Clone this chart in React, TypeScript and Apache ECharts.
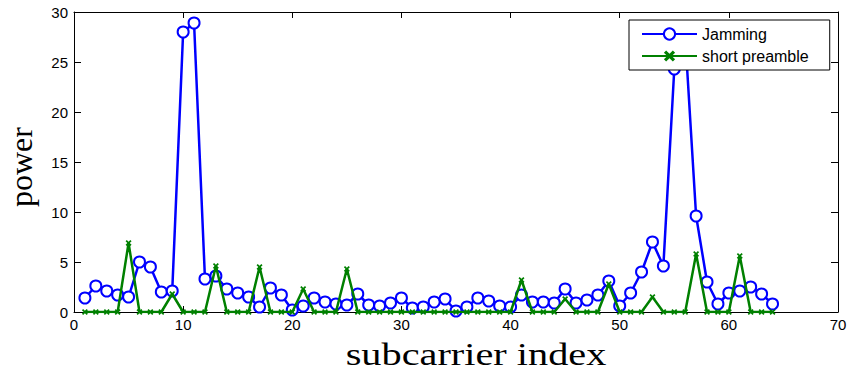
import React, { useEffect, useRef } from "react";
import * as echarts from "echarts";

const subcarrier = [
  1, 2, 3, 4, 5, 6, 7, 8, 9, 10, 11, 12, 13, 14, 15, 16, 17, 18, 19, 20, 21, 22,
  23, 24, 25, 26, 27, 28, 29, 30, 31, 32, 33, 34, 35, 36, 37, 38, 39, 40, 41, 42,
  43, 44, 45, 46, 47, 48, 49, 50, 51, 52, 53, 54, 55, 56, 57, 58, 59, 60, 61, 62,
  63, 64,
];

const jamming = [
  1.4, 2.6, 2.1, 1.7, 1.5, 5.0, 4.5, 2.0, 2.1, 28.0, 28.9, 3.3, 3.6, 2.3, 1.9, 1.5,
  0.5, 2.4, 1.7, 0.2, 0.6, 1.4, 1.0, 0.8, 0.7, 1.8, 0.7, 0.6, 0.9, 1.4, 0.4, 0.5,
  1.0, 1.3, 0.1, 0.5, 1.4, 1.1, 0.6, 0.5, 1.7, 1.0, 1.0, 0.9, 2.3, 0.9, 1.2, 1.7,
  3.1, 0.6, 1.9, 4.0, 7.0, 4.6, 24.3, 27.5, 9.6, 3.0, 0.8, 1.9, 2.1, 2.5, 1.8, 0.8,
];

const shortPreamble = [
  0, 0, 0, 0, 6.9, 0, 0, 0, 1.8, 0, 0, 0, 4.6, 0, 0, 0,
  4.5, 0, 0, 0, 2.3, 0, 0, 0, 4.3, 0, 0, 0, 0, 0, 0, 0,
  0, 0, 0, 0, 0, 0, 0, 0, 3.2, 0, 0, 0, 1.3, 0, 0, 0,
  2.8, 0, 0, 0, 1.5, 0, 0, 0, 5.8, 0, 0, 0, 5.6, 0, 0, 0,
];

const xTicks = { min: 0, max: 70, interval: 10 };
const yTicks = { min: 0, max: 30, interval: 5 };

const seriesNames = ["Jamming", "short preamble"];
const xLabel = "subcarrier index";
const yLabel = "power";

export default function App() {
  const ref = useRef<HTMLDivElement>(null);

  useEffect(() => {
    if (!ref.current) return;
    const chart = echarts.init(ref.current, null, { renderer: "svg" });

    const sansFont = "Liberation Sans, Arial, Helvetica, sans-serif";
    const serifFont = "Liberation Serif, Times New Roman, serif";

    const axisLine = { show: true, onZero: false, lineStyle: { color: "#000", width: 1 } };

    const mkX = (position: string, showLabel: boolean) => ({
      type: "value",
      position,
      min: xTicks.min,
      max: xTicks.max,
      interval: xTicks.interval,
      axisLine,
      axisTick: { show: true, inside: true, length: 6, lineStyle: { color: "#000", width: 1 } },
      axisLabel: {
        show: showLabel,
        color: "#000",
        fontSize: 15,
        fontFamily: sansFont,
        margin: 5,
      },
      splitLine: { show: false },
    });
    const mkY = (position: string, showLabel: boolean) => ({
      type: "value",
      position,
      min: yTicks.min,
      max: yTicks.max,
      interval: yTicks.interval,
      axisLine,
      axisTick: { show: true, inside: true, length: 7, lineStyle: { color: "#000", width: 1 } },
      axisLabel: {
        show: showLabel,
        color: "#000",
        fontSize: 15,
        fontFamily: sansFont,
        margin: 6,
      },
      splitLine: { show: false },
    });

    const xMark =
      "path://M0,2L2,0L5,3L8,0L10,2L7,5L10,8L8,10L5,7L2,10L0,8L3,5Z";

    chart.setOption({
      animation: false,
      backgroundColor: "#fff",
      grid: { left: 74, right: 12, top: 12, bottom: 63, containLabel: false },
      xAxis: [mkX("bottom", true), mkX("top", false)],
      yAxis: [mkY("left", true), mkY("right", false)],
      legend: {
        data: seriesNames,
        orient: "vertical",
        left: 629,
        top: 20,
        padding: [6, 21, 6, 12],
        itemWidth: 55,
        itemHeight: 14,
        itemGap: 6,
        backgroundColor: "#fff",
        borderColor: "#000",
        borderWidth: 1,
        borderRadius: 0,
        textStyle: { color: "#000", fontSize: 16, fontFamily: sansFont },
      },
      series: [
        {
          name: seriesNames[0],
          type: "line",
          xAxisIndex: 0,
          yAxisIndex: 0,
          data: subcarrier.map((x, i) => [x, jamming[i]]),
          symbol: "emptyCircle",
          symbolSize: 11,
          lineStyle: { color: "#0000ff", width: 2.5 },
          itemStyle: { color: "#0000ff", borderColor: "#0000ff", borderWidth: 2.5 },
          z: 2,
        },
        {
          name: seriesNames[1],
          type: "line",
          xAxisIndex: 0,
          yAxisIndex: 0,
          data: subcarrier.map((x, i) => [x, shortPreamble[i]]),
          symbol: xMark,
          symbolSize: 6,
          lineStyle: { color: "#008000", width: 2.5 },
          itemStyle: { color: "#008000" },
          z: 3,
        },
      ],
      graphic: [
        {
          type: "text",
          x: 476,
          y: 355,
          scaleX: 1.3,
          style: {
            text: xLabel,
            fill: "#000",
            font: `31px ${serifFont}`,
            textAlign: "center",
            textVerticalAlign: "middle",
          },
        },
        {
          type: "text",
          x: 21,
          y: 167,
          rotation: Math.PI / 2,
          style: {
            text: yLabel,
            fill: "#000",
            font: `32px ${serifFont}`,
            textAlign: "center",
            textVerticalAlign: "middle",
          },
        },
      ],
    });

    return () => chart.dispose();
  }, []);

  return (
    <div
      ref={ref}
      style={{ position: "fixed", left: 0, top: 0, width: 850, height: 375 }}
    />
  );
}
